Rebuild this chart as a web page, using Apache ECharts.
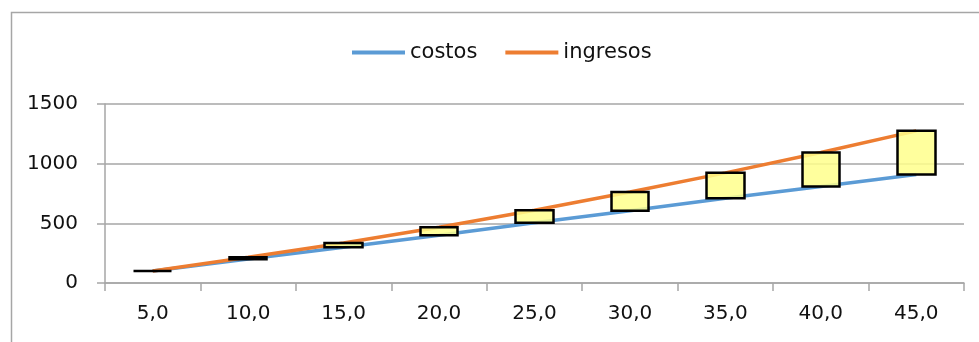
<!DOCTYPE html>
<html>
<head>
<meta charset="utf-8">
<script src="https://cdn.jsdelivr.net/npm/echarts@6/dist/echarts.min.js"></script>
<style>
html,body{margin:0;padding:0;background:#fff;}
#chart{width:979px;height:342px;}
</style>
</head>
<body>
<div id="chart"></div>
<script>
const categories = ['5,0','10,0','15,0','20,0','25,0','30,0','35,0','40,0','45,0'];
const costos = [100, 200, 300, 400, 505, 605, 710, 808, 910];
const ingresos = [100, 215, 335, 468, 610, 762, 923, 1094, 1275];
const yTicks = [0, 500, 1000, 1500];

const candleData = costos.map((c, i) => [c, ingresos[i], Math.min(c, ingresos[i]), Math.max(c, ingresos[i])]);

const chart = echarts.init(document.getElementById('chart'), null, {renderer: 'canvas'});
const FONT = 'DejaVu Sans';
chart.setOption({
  animation: false,
  backgroundColor: '#fff',
  textStyle: {fontFamily: FONT},
  graphic: [{
    type: 'rect', left: 9, top: 10, silent: true, z: -10,
    shape: {x: 0, y: 0, width: 990, height: 360},
    style: {fill: 'none', stroke: '#A6A6A6', lineWidth: 1.5}
  }],
  legend: {
    data: ['costos', 'ingresos'],
    left: 347, top: 37,
    itemWidth: 53, itemHeight: 4, itemGap: 28,
    icon: 'rect',
    textStyle: {fontFamily: FONT, fontSize: 21, color: '#111'}
  },
  grid: {left: 105, right: 15, top: 104, bottom: 59, containLabel: false},
  xAxis: {
    type: 'category',
    data: categories,
    boundaryGap: true,
    axisLine: {lineStyle: {color: '#A6A6A6', width: 1.5}},
    axisTick: {show: true, length: 8, lineStyle: {color: '#A6A6A6', width: 1.5}},
    axisLabel: {fontFamily: FONT, fontSize: 20, color: '#111', margin: 21}
  },
  yAxis: {
    type: 'value',
    min: yTicks[0], max: yTicks[yTicks.length - 1], interval: 500,
    axisLine: {show: true, lineStyle: {color: '#A6A6A6', width: 1.5}},
    axisTick: {show: true, length: 8, lineStyle: {color: '#A6A6A6', width: 1.5}},
    splitLine: {show: true, lineStyle: {color: '#A6A6A6', width: 1.5}},
    axisLabel: {fontFamily: FONT, fontSize: 20, color: '#111', margin: 27, formatter: v => String(v)}
  },
  series: [
    {
      name: 'costos', type: 'line', data: costos,
      symbol: 'none', z: 2,
      lineStyle: {color: '#5B9BD5', width: 3.5},
      itemStyle: {color: '#5B9BD5'}
    },
    {
      name: 'ingresos', type: 'line', data: ingresos,
      symbol: 'none', z: 2,
      lineStyle: {color: '#ED7D31', width: 3.5},
      itemStyle: {color: '#ED7D31'}
    },
    {
      name: 'updown', type: 'candlestick', data: candleData,
      barWidth: 38, z: 3,
      itemStyle: {
        color: 'rgba(255,255,140,0.85)', color0: 'rgba(255,255,140,0.85)',
        borderColor: '#000', borderColor0: '#000', borderWidth: 2.5
      }
    }
  ]
});
</script>
</body>
</html>
